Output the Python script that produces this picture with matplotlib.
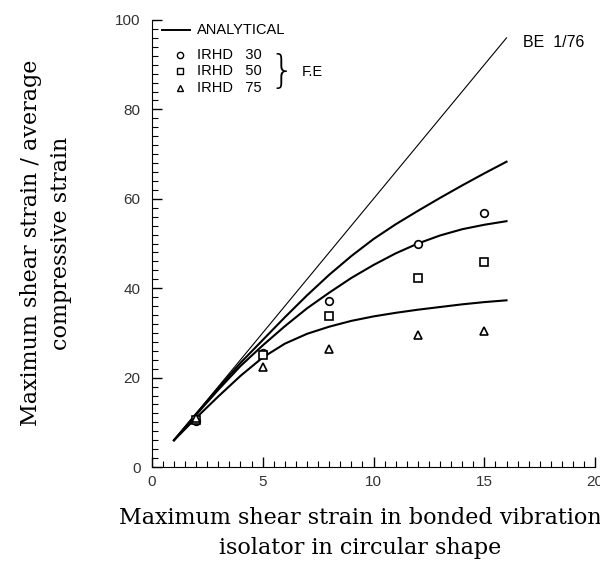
import matplotlib
matplotlib.use("Agg")
import matplotlib.pyplot as plt
from matplotlib.ticker import MultipleLocator

# curves (x = shear strain, y = ratio)
x_curve = [1, 2, 3, 4, 5, 6, 7, 8, 9, 10, 11, 12, 13, 14, 15, 16]
y_upper = [6, 11.9, 17.7, 23.3, 28.4, 33.5, 38.4, 43.0, 47.2, 51.0,
           54.3, 57.3, 60.2, 63.0, 65.7, 68.3]
y_middle = [6, 11.7, 17.3, 22.6, 27.2, 31.5, 35.5, 39.0, 42.3, 45.2,
            47.8, 50.0, 51.8, 53.2, 54.2, 55.0]
y_lower = [6, 11.0, 15.8, 20.4, 24.5, 27.6, 29.8, 31.4, 32.7, 33.7,
           34.5, 35.2, 35.8, 36.4, 36.9, 37.3]

x_analytical = [1, 16]
y_analytical = [6, 96]

# finite element points
x_fe = [2, 5, 8, 12, 15]
fe_irhd30 = [10.3, 25.5, 37.2, 50.0, 56.9]
fe_irhd50 = [10.6, 25.0, 33.8, 42.3, 45.9]
fe_irhd75 = [11.0, 22.4, 26.5, 29.5, 30.4]

legend_labels = ["ANALYTICAL", "IRHD   30", "IRHD   50", "IRHD   75"]
legend_markers = ["o", "s", "^"]

fig = plt.figure(figsize=(6.0, 5.71), dpi=100)
ax = fig.add_axes([0.253, 0.182, 0.739, 0.783])

ax.plot(x_analytical, y_analytical, color="black", lw=0.8, clip_on=False)
for yc in (y_upper, y_middle, y_lower):
    ax.plot(x_curve, yc, color="black", lw=1.5)

for ys, m in zip((fe_irhd30, fe_irhd50, fe_irhd75), legend_markers):
    ax.plot(x_fe, ys, ls="none", marker=m, ms=5.5, mfc="white",
            mec="black", mew=1.2)

ax.text(16.75, 95, "BE  1/76", fontsize=11.5, family="Liberation Sans",
        va="center", ha="left", clip_on=False)

# hand-made legend
tf = ax.transAxes
ax.plot([0.022, 0.086], [0.978, 0.978], color="black", lw=1.4, transform=tf)
ax.text(0.101, 0.978, legend_labels[0], transform=tf, va="center",
        fontsize=10.5, family="Liberation Sans")
for i, (lab, m) in enumerate(zip(legend_labels[1:], legend_markers)):
    yy = 0.922 - i * 0.037
    ax.plot([0.063], [yy], marker=m, ms=4.5, mfc="white", mec="black",
            mew=1.0, transform=tf)
    ax.text(0.101, yy, lab, transform=tf, va="center", fontsize=10.5,
            family="Liberation Sans")
ax.text(0.293, 0.884, "}", transform=tf, va="center", ha="center",
        fontsize=28, family="DejaVu Sans", fontweight="ultralight")
ax.text(0.338, 0.884, "F.E", transform=tf, va="center", fontsize=10.5,
        family="Liberation Sans")

ax.set_xlim(0, 20)
ax.set_ylim(0, 100)
ax.xaxis.set_major_locator(MultipleLocator(5))
ax.xaxis.set_minor_locator(MultipleLocator(0.5))
ax.yaxis.set_major_locator(MultipleLocator(20))
ax.yaxis.set_minor_locator(MultipleLocator(2))
ax.tick_params(which="major", direction="in", length=7, width=1.0,
               labelsize=11, labelcolor="#333333")
ax.tick_params(axis="y", which="major", pad=8)
ax.tick_params(axis="x", which="major", pad=6)
ax.tick_params(which="minor", direction="in", length=4, width=0.8)
for lab in ax.get_xticklabels() + ax.get_yticklabels():
    lab.set_family("Liberation Sans")
ax.spines["top"].set_visible(False)
ax.spines["right"].set_visible(False)

fig.text(360 / 600, 1 - 533 / 571,
         "Maximum shear strain in bonded vibration\nisolator in circular shape",
         family="DejaVu Serif", fontsize=16, ha="center", va="center",
         linespacing=1.45)
fig.text(46 / 600, 1 - 243 / 571,
         "Maximum shear strain / average\ncompressive strain",
         family="DejaVu Serif", fontsize=16, ha="center", va="center",
         rotation=90, linespacing=1.45)

fig.savefig("out.png", dpi=100)
